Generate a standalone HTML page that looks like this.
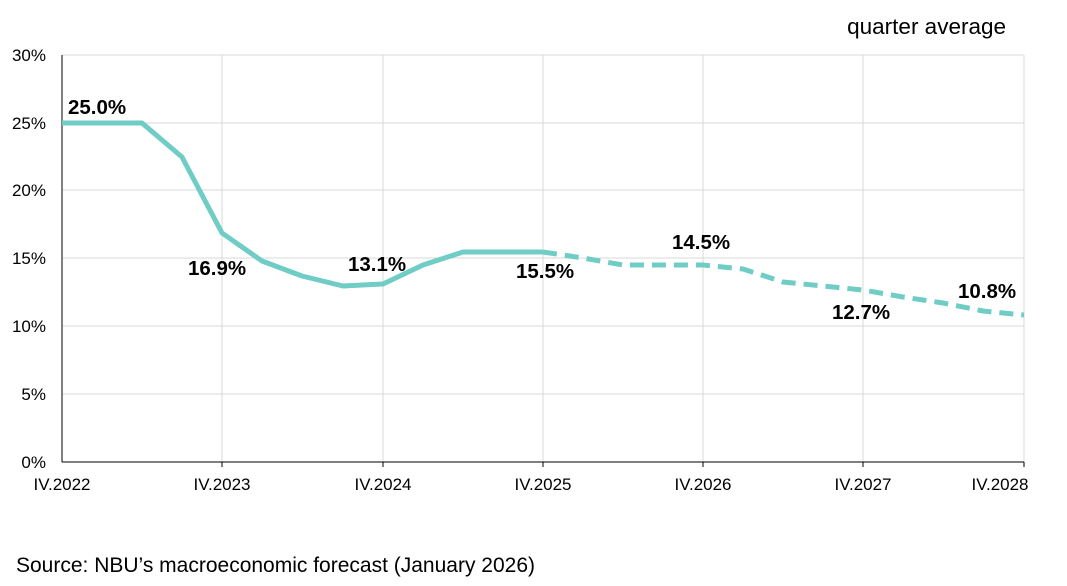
<!DOCTYPE html>
<html><head><meta charset="utf-8"><style>
body{margin:0;background:#fff;}
svg text{font-family:"Liberation Sans",Arial,sans-serif;}
</style></head><body>
<svg width="1067" height="581" viewBox="0 0 1067 581" xmlns="http://www.w3.org/2000/svg">
<rect width="1067" height="581" fill="#fff"/>
<g stroke="#d9d9d9" stroke-width="1">
<line x1="62" y1="55" x2="1024" y2="55"/>
<line x1="62" y1="123" x2="1024" y2="123"/>
<line x1="62" y1="190" x2="1024" y2="190"/>
<line x1="62" y1="258" x2="1024" y2="258"/>
<line x1="62" y1="326" x2="1024" y2="326"/>
<line x1="62" y1="394" x2="1024" y2="394"/>
<line x1="222" y1="55" x2="222" y2="462"/>
<line x1="383" y1="55" x2="383" y2="462"/>
<line x1="543" y1="55" x2="543" y2="462"/>
<line x1="703" y1="55" x2="703" y2="462"/>
<line x1="863" y1="55" x2="863" y2="462"/>
<line x1="1024" y1="55" x2="1024" y2="462"/>
</g>
<g stroke="#000" stroke-width="1">
<line x1="62" y1="55" x2="62" y2="462"/>
<line x1="62" y1="462" x2="1024" y2="462"/>
<line x1="222" y1="462" x2="222" y2="467"/>
<line x1="383" y1="462" x2="383" y2="467"/>
<line x1="543" y1="462" x2="543" y2="467"/>
<line x1="703" y1="462" x2="703" y2="467"/>
<line x1="863" y1="462" x2="863" y2="467"/>
<line x1="1024" y1="462" x2="1024" y2="467"/>
</g>
<g font-size="17" fill="#000" text-anchor="end">
<text x="46" y="61">30%</text><text x="46" y="129">25%</text><text x="46" y="196">20%</text>
<text x="46" y="264">15%</text><text x="46" y="332">10%</text><text x="46" y="400">5%</text><text x="46" y="468">0%</text>
</g>
<g font-size="17" fill="#000" text-anchor="middle">
<text x="62" y="490">IV.2022</text><text x="222" y="490">IV.2023</text><text x="383" y="490">IV.2024</text>
<text x="543" y="490">IV.2025</text><text x="703" y="490">IV.2026</text><text x="863" y="490">IV.2027</text><text x="1000" y="490">IV.2028</text>
</g>
<text x="1006" y="34" font-size="22.5" text-anchor="end">quarter average</text>
<text x="16" y="572" font-size="21">Source: NBU’s macroeconomic forecast (January 2026)</text>
<polyline fill="none" stroke="#6fcdc6" stroke-width="5" stroke-linejoin="round" points="62,123 102,123 142,123 182,157 222,233 262,261 302,276 343,286 383,284 423,265 463,252 503,252 543,252"/>
<polyline fill="none" stroke="#6fcdc6" stroke-width="5" stroke-dasharray="14,8" points="543,252 583,258 623,265 663,265 703,265 743,269 783,282 823,286 863,290 903,297 943,303 983,311 1024,315"/>
<g font-size="20.5" font-weight="bold" fill="#000">
<text x="68" y="114">25.0%</text>
<text x="188" y="275">16.9%</text>
<text x="348" y="271">13.1%</text>
<text x="516" y="278">15.5%</text>
<text x="672" y="249">14.5%</text>
<text x="832" y="319">12.7%</text>
<text x="958" y="298">10.8%</text>
</g>
</svg>
</body></html>
